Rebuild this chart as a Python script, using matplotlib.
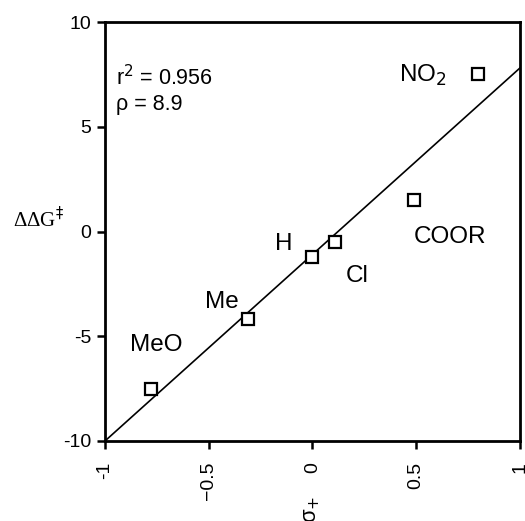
import numpy as np
import matplotlib
matplotlib.use('Agg')
import matplotlib.pyplot as plt

# Hammett data
subst = ['MeO', 'Me', 'H', 'Cl', 'COOR', 'NO$_2$']
sigma = [-0.78, -0.31, 0.0, 0.11, 0.49, 0.80]
ddg = [-7.5, -4.2, -1.2, -0.5, 1.5, 7.5]
# where each label sits (x, baseline y in data units)
lab_x = [-0.88, -0.52, -0.18, 0.16, 0.49, 0.42]
lab_y = [-5.7, -3.65, -0.88, -2.4, -0.55, 7.14]

rho = 8.9
icept = -1.1
xticks = [-1, -0.5, 0, 0.5, 1]
xticklabels = ['-1', '\u22120.5', '0', '0.5', '1']
yticks = [-10, -5, 0, 5, 10]
yticklabels = ['-10', '-5', '0', '5', '10']

plt.rcParams['font.family'] = ['Liberation Sans', 'DejaVu Sans']

fig = plt.figure(figsize=(5.25, 5.21), dpi=100)
ax = fig.add_axes([0.2, 0.1536, 0.790, 0.804])

# fit line
xl = np.array([-1.0, 1.0])
ax.plot(xl, rho * xl + icept, color='black', lw=1.2, zorder=2)

# the points
ax.plot(sigma, ddg, 's', ms=9, mfc='white', mec='black', mew=1.6,
        zorder=3, clip_on=False)

for i in range(len(subst)):
    ax.text(lab_x[i], lab_y[i], subst[i], fontsize=17.5, ha='left',
            va='baseline')

ax.text(0.027, 0.85, 'r$^2$ = 0.956', transform=ax.transAxes,
        fontsize=15.5, va='baseline')
ax.text(0.027, 0.79, '\u03c1 = 8.9', transform=ax.transAxes,
        fontsize=15.5, va='baseline')

ax.set_xlim(-1, 1)
ax.set_ylim(-10, 10)
ax.set_xticks(xticks)
ax.set_xticklabels(xticklabels, rotation=90, fontsize=14)
ax.set_yticks(yticks)
ax.set_yticklabels(yticklabels, fontsize=14)
ax.tick_params(direction='out', length=6, width=1.8)
ax.tick_params(axis='x', pad=9)
ax.tick_params(axis='y', pad=4)
for s in ax.spines.values():
    s.set_linewidth(2)

# axis labels placed by hand like the original
fig.text(13 / 525, 0.578, '\u0394\u0394G$^{\u2021}$', family='Liberation Serif',
         fontsize=15, ha='left', va='center')
fig.text(312 / 525, 0.048, '\u03c3$_{+}$', fontsize=16, rotation=90,
         ha='center', va='top')

fig.savefig('out.png', dpi=100)
